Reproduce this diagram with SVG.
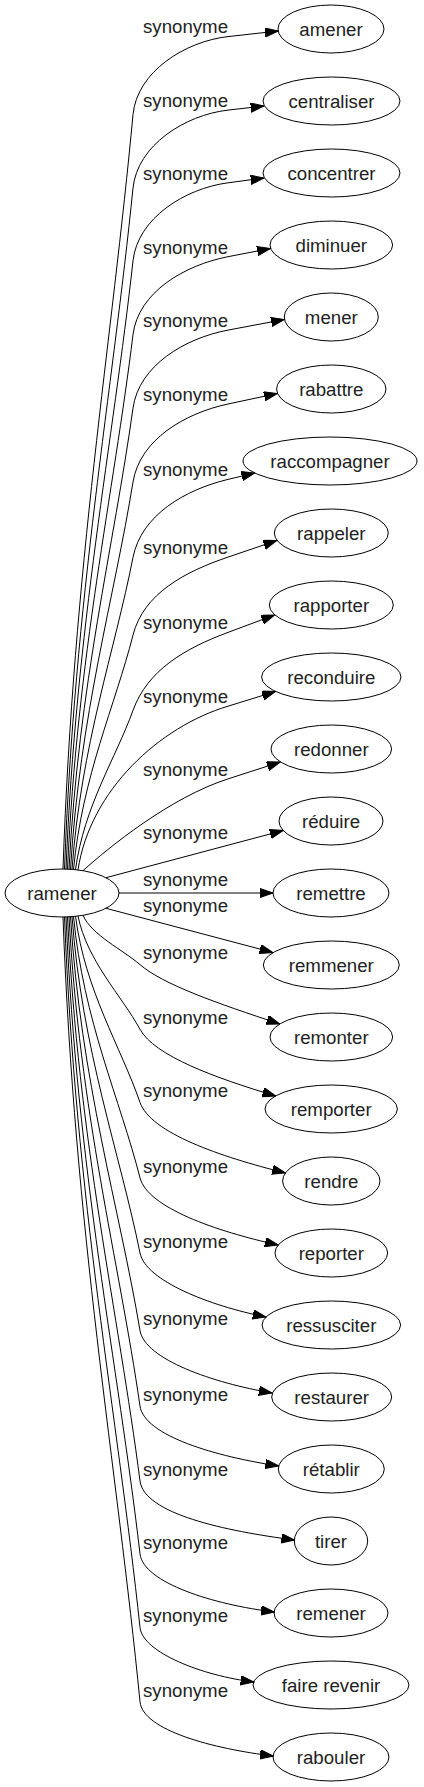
<svg xmlns="http://www.w3.org/2000/svg" width="424" height="1787" viewBox="0 0 424 1787">
<style>
.e{fill:none;stroke:#000;stroke-width:1;marker-end:url(#arr)}
.nd{fill:none;stroke:#000;stroke-width:1}
.t{font-family:"Liberation Sans",Arial,sans-serif;font-size:18.67px;fill:#222;text-anchor:middle}
</style>
<defs>
<marker id="arr" markerWidth="14" markerHeight="10" refX="13.3" refY="4.67" orient="auto" markerUnits="userSpaceOnUse">
<path d="M0,0 L13.3,4.67 L0,9.33 Z" fill="#000" stroke="#000" stroke-width="1"/>
</marker>
</defs>
<rect x="0" y="0" width="424" height="1787" fill="#fff"/>
<g id="edges">
<path class="e" d="M63,869 C73.5,567.2 112,340.9 133,114.6 C137,71.8 185,41.4 228,36.6 L278.2,31"/>
<path class="e" d="M64.5,869 C74.8,596.6 112.45,392.4 133,188.1 C137.3,145.3 185,115 228,110.1 L264,106"/>
<path class="e" d="M66,869.1 C76.05,625.8 112.9,443.3 133,260.8 C137.7,218 185,188.5 228,182.8 L264,178"/>
<path class="e" d="M67.5,869.1 C77.3,655.3 113.35,495 133,334.7 C138.2,292 185,265 228,256.7 L270.4,248.5"/>
<path class="e" d="M69,869.2 C78.6,684.8 113.8,546.4 133,408.1 C138.9,365.5 185,338.2 228,330.1 L284.3,319.5"/>
<path class="e" d="M70.5,869.3 C79.9,714.4 114.25,598.2 133,482 C139.85,439.5 185,413.2 228,404 L277.3,393.5"/>
<path class="e" d="M72,869.4 C81.15,744.6 114.7,651 133,557.4 C141.25,515.2 185,489.7 228,479.4 L254.7,473"/>
<path class="e" d="M73.5,869.5 C82.4,775.7 115.15,705.4 133,635.1 C143.6,593.4 185,571.7 228,557.1 L276.8,540.5"/>
<path class="e" d="M75.5,869.7 C84.1,806 115.75,758.2 133,710.4 C147.6,670 185,648.4 228,632.4 L274.6,615"/>
<path class="e" d="M78,870 C90,790 160,726.5 228,706.2 L275.5,691.5"/>
<path class="e" d="M83,870.7 C108,848 170,797.5 228,778.9 L280.3,762"/>
<path class="e" d="M106,877.7 L283.2,830.5"/>
<path class="e" d="M119,893 L273,893"/>
<path class="e" d="M106,908.3 L272.9,952.5"/>
<path class="e" d="M83,915.3 C91.55,935 122.9,949.8 140,964.6 C163,984.5 216.9,1003.2 279.8,1024"/>
<path class="e" d="M78,916 C87.3,961.3 121.4,995.3 140,1029.3 C154.5,1055.8 214.6,1077.7 275.7,1096"/>
<path class="e" d="M75.5,916.3 C85.2,990.7 120.65,1046.6 140,1102.4 C150.6,1132.9 220,1156.6 285.4,1173"/>
<path class="e" d="M73.5,916.5 C83.5,1021 120.05,1099.4 140,1177.8 C147.6,1207.6 216,1231.3 278.2,1245"/>
<path class="e" d="M72,916.6 C82.2,1051.2 119.6,1152.1 140,1253 C145.6,1280.7 209.3,1305.7 266,1317"/>
<path class="e" d="M70.5,916.7 C80.9,1082.2 119.15,1206.4 140,1330.5 C144.8,1359.3 212.7,1382.9 272.1,1393"/>
<path class="e" d="M69,916.8 C79.65,1112.5 118.7,1259.2 140,1406 C144.3,1435.9 216.3,1456.6 278.7,1466"/>
<path class="e" d="M67.5,916.9 C78.4,1142.5 118.25,1311.8 140,1481 C144.2,1513.8 225,1531 294.6,1540"/>
<path class="e" d="M66,916.9 C77.1,1171.7 117.8,1362.7 140,1553.8 C143.4,1582.9 213.9,1604.7 274.35,1612"/>
<path class="e" d="M64.5,917 C75.8,1201.2 117.35,1414.3 140,1627.4 C142.7,1652.6 202.6,1675.8 253.9,1682"/>
<path class="e" d="M63,917 C74.55,1230.9 116.9,1466.3 140,1701.7 C142.8,1730.4 213.35,1748.8 273.35,1756"/>
<text class="t" x="185.5" y="33.4">synonyme</text>
<text class="t" x="185.5" y="106.9">synonyme</text>
<text class="t" x="185.5" y="179.6">synonyme</text>
<text class="t" x="185.5" y="253.5">synonyme</text>
<text class="t" x="185.5" y="326.9">synonyme</text>
<text class="t" x="185.5" y="400.8">synonyme</text>
<text class="t" x="185.5" y="476.2">synonyme</text>
<text class="t" x="185.5" y="553.9">synonyme</text>
<text class="t" x="185.5" y="629.2">synonyme</text>
<text class="t" x="185.5" y="703">synonyme</text>
<text class="t" x="185.5" y="775.7">synonyme</text>
<text class="t" x="185.5" y="838.5">synonyme</text>
<text class="t" x="185.5" y="885.6">synonyme</text>
<text class="t" x="185.5" y="912.4">synonyme</text>
<text class="t" x="185.5" y="959.4">synonyme</text>
<text class="t" x="185.5" y="1024.1">synonyme</text>
<text class="t" x="185.5" y="1097.2">synonyme</text>
<text class="t" x="185.5" y="1172.6">synonyme</text>
<text class="t" x="185.5" y="1247.8">synonyme</text>
<text class="t" x="185.5" y="1325.3">synonyme</text>
<text class="t" x="185.5" y="1400.8">synonyme</text>
<text class="t" x="185.5" y="1475.8">synonyme</text>
<text class="t" x="185.5" y="1548.6">synonyme</text>
<text class="t" x="185.5" y="1622.2">synonyme</text>
<text class="t" x="185.5" y="1696.5">synonyme</text>
</g>
<g id="n-ramener"><ellipse class="nd" cx="62" cy="893" rx="57" ry="24"/><text class="t" x="62" y="899.5">ramener</text></g>
<g id="n-amener"><ellipse class="nd" cx="331" cy="29" rx="53" ry="24"/><text class="t" x="331" y="35.5">amener</text></g>
<g id="n-centraliser"><ellipse class="nd" cx="331.5" cy="101" rx="68.5" ry="24"/><text class="t" x="331.5" y="107.5">centraliser</text></g>
<g id="n-concentrer"><ellipse class="nd" cx="331.5" cy="173" rx="68.5" ry="24"/><text class="t" x="331.5" y="179.5">concentrer</text></g>
<g id="n-diminuer"><ellipse class="nd" cx="331.3" cy="245" rx="61.3" ry="24"/><text class="t" x="331.3" y="251.5">diminuer</text></g>
<g id="n-mener"><ellipse class="nd" cx="331.3" cy="317" rx="47" ry="24"/><text class="t" x="331.3" y="323.5">mener</text></g>
<g id="n-rabattre"><ellipse class="nd" cx="331.3" cy="389" rx="54.7" ry="24"/><text class="t" x="331.3" y="395.5">rabattre</text></g>
<g id="n-raccompagner"><ellipse class="nd" cx="330" cy="461" rx="87" ry="24"/><text class="t" x="330" y="467.5">raccompagner</text></g>
<g id="n-rappeler"><ellipse class="nd" cx="331.3" cy="533" rx="57" ry="24"/><text class="t" x="331.3" y="539.5">rappeler</text></g>
<g id="n-rapporter"><ellipse class="nd" cx="331.3" cy="605" rx="62" ry="24"/><text class="t" x="331.3" y="611.5">rapporter</text></g>
<g id="n-reconduire"><ellipse class="nd" cx="331.3" cy="677" rx="69.7" ry="24"/><text class="t" x="331.3" y="683.5">reconduire</text></g>
<g id="n-redonner"><ellipse class="nd" cx="331.3" cy="749" rx="60.3" ry="24"/><text class="t" x="331.3" y="755.5">redonner</text></g>
<g id="n-reduire"><ellipse class="nd" cx="331" cy="821" rx="52" ry="24"/><text class="t" x="331" y="827.5">réduire</text></g>
<g id="n-remettre"><ellipse class="nd" cx="331" cy="893" rx="58" ry="24"/><text class="t" x="331" y="899.5">remettre</text></g>
<g id="n-remmener"><ellipse class="nd" cx="331.3" cy="965" rx="68" ry="24"/><text class="t" x="331.3" y="971.5">remmener</text></g>
<g id="n-remonter"><ellipse class="nd" cx="331.3" cy="1037" rx="61.3" ry="24"/><text class="t" x="331.3" y="1043.5">remonter</text></g>
<g id="n-remporter"><ellipse class="nd" cx="331.2" cy="1109" rx="66.2" ry="24"/><text class="t" x="331.2" y="1115.5">remporter</text></g>
<g id="n-rendre"><ellipse class="nd" cx="331.3" cy="1181" rx="48.7" ry="24"/><text class="t" x="331.3" y="1187.5">rendre</text></g>
<g id="n-reporter"><ellipse class="nd" cx="331.3" cy="1253" rx="56.3" ry="24"/><text class="t" x="331.3" y="1259.5">reporter</text></g>
<g id="n-ressusciter"><ellipse class="nd" cx="331.3" cy="1325" rx="69.3" ry="24"/><text class="t" x="331.3" y="1331.5">ressusciter</text></g>
<g id="n-restaurer"><ellipse class="nd" cx="331.7" cy="1397" rx="60" ry="24"/><text class="t" x="331.7" y="1403.5">restaurer</text></g>
<g id="n-retablir"><ellipse class="nd" cx="331.3" cy="1469" rx="53" ry="24"/><text class="t" x="331.3" y="1475.5">rétablir</text></g>
<g id="n-tirer"><ellipse class="nd" cx="331" cy="1541" rx="36.7" ry="24"/><text class="t" x="331" y="1547.5">tirer</text></g>
<g id="n-remener"><ellipse class="nd" cx="331" cy="1613" rx="57" ry="24"/><text class="t" x="331" y="1619.5">remener</text></g>
<g id="n-faire-revenir"><ellipse class="nd" cx="331" cy="1685" rx="78" ry="24"/><text class="t" x="331" y="1691.5">faire revenir</text></g>
<g id="n-rabouler"><ellipse class="nd" cx="331" cy="1757" rx="58" ry="24"/><text class="t" x="331" y="1763.5">rabouler</text></g>
</svg>
